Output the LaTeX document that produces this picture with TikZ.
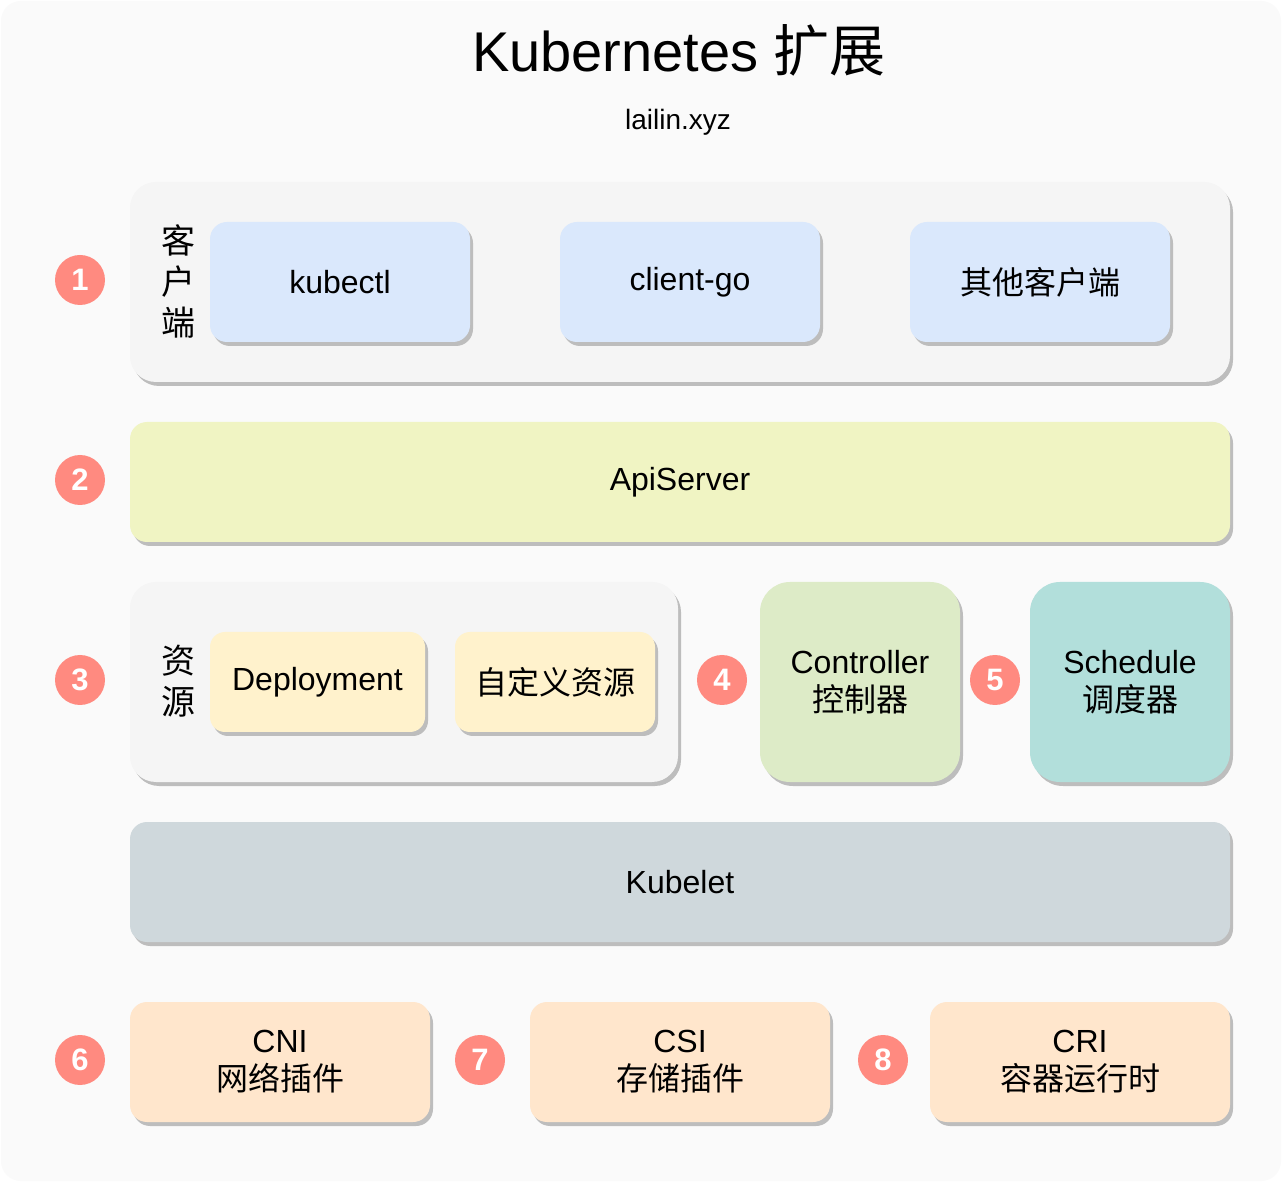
\documentclass[tikz,border=0pt]{standalone}
\usepackage{fontspec}
\setmainfont{Liberation Sans}
\newfontfamily\cjk{Noto Sans CJK SC}
\usetikzlibrary{shadows}
\usetikzlibrary{positioning}
\usepackage{xcolor}
\definecolor{pagebg}{HTML}{FAFAFA}
\definecolor{groupgray}{HTML}{F5F5F5}
\definecolor{shadowgray}{HTML}{BDBDBD}
\definecolor{badgered}{HTML}{FF8A80}
\definecolor{clientblue}{HTML}{DAE8FC}
\definecolor{apiyellow}{HTML}{F0F4C3}
\definecolor{resyellow}{HTML}{FFF2CC}
\definecolor{ctrlgreen}{HTML}{DDEBC7}
\definecolor{schedteal}{HTML}{B2DFDB}
\definecolor{kubeletgray}{HTML}{CFD8DC}
\definecolor{pluginorange}{HTML}{FFE6CC}
\tikzset{
  card/.style={rectangle, rounded corners=8.5pt, align=center, text=black, outer sep=0pt,
    font=\fontsize{16}{19}\selectfont,
    drop shadow={shadow xshift=1.5pt, shadow yshift=-2pt, fill=shadowgray, opacity=1}},
  group/.style={card, fill=groupgray, rounded corners=13pt},
  badge/.style={circle, fill=badgered, minimum size=25pt, inner sep=0pt, text=white,
    font=\bfseries\fontsize{15.5}{15.5}\selectfont},
  sidelabel/.style={align=center, font=\cjk\fontsize{17}{20.5}\selectfont}
}
\begin{document}
\begin{tikzpicture}[x=0.5pt,y=-0.5pt]
\fill[white] (0,0) rectangle (1282,1182);
\fill[pagebg, rounded corners=10pt] (1,1) rectangle (1281,1181);
% title
\node (title) at (679,50) {\fontsize{28}{34}\selectfont Kubernetes {\cjk 扩展}};
\node (site) at (678,122) {\fontsize{14}{16}\selectfont lailin.xyz};
% clients
\node[group, minimum width=550pt, minimum height=100pt] (clients) at (680,282) {};
\node[sidelabel] (clientlbl) at (178,281) {客\\户\\端};
\node[card, fill=clientblue, minimum width=130pt, minimum height=60pt] (kubectl) at (340,282) {kubectl};
\node[card, fill=clientblue, minimum width=130pt, minimum height=60pt, right=45pt of kubectl] (clientgo) {client-go};
\node[card, fill=clientblue, minimum width=130pt, minimum height=60pt, right=45pt of clientgo] (otherclient) {\cjk 其他客户端};
% apiserver
\node[card, fill=apiyellow, minimum width=550pt, minimum height=60pt] (apiserver) at (680,482) {ApiServer};
% resources, controller, scheduler
\node[group, minimum width=274pt, minimum height=100pt] (resources) at (404,682) {};
\node[sidelabel] (reslbl) at (178,681) {资\\源};
\node[card, fill=resyellow, minimum width=107.5pt, minimum height=50pt, rounded corners=7.5pt] (deployment) at (317.5,682) {Deployment};
\node[card, fill=resyellow, minimum width=100pt, minimum height=50pt, rounded corners=7.5pt, right=15pt of deployment] (crd) {\cjk 自定义资源};
\node[card, fill=ctrlgreen, minimum width=100pt, minimum height=100pt, rounded corners=15pt] (controller) at (860,682) {Controller\\{\cjk 控制器}};
\node[card, fill=schedteal, minimum width=100pt, minimum height=100pt, rounded corners=15pt, right=35pt of controller] (scheduler) {Schedule\\{\cjk 调度器}};
% kubelet
\node[card, fill=kubeletgray, minimum width=550pt, minimum height=60pt] (kubelet) at (680,882) {Kubelet};
% plugins
\node[card, fill=pluginorange, minimum width=150pt, minimum height=60pt] (cni) at (280,1062) {CNI\\{\cjk 网络插件}};
\node[card, fill=pluginorange, minimum width=150pt, minimum height=60pt, right=50pt of cni] (csi) {CSI\\{\cjk 存储插件}};
\node[card, fill=pluginorange, minimum width=150pt, minimum height=60pt, right=50pt of csi] (cri) {CRI\\{\cjk 容器运行时}};
% badges
\node[badge] (b1) at (80,280) {1};
\node[badge] (b2) at (80,480) {2};
\node[badge] (b3) at (80,680) {3};
\node[badge] (b4) at (722,680) {4};
\node[badge] (b5) at (995,680) {5};
\node[badge] (b6) at (80,1060) {6};
\node[badge] (b7) at (480,1060) {7};
\node[badge] (b8) at (883,1060) {8};
\end{tikzpicture}
\end{document}
